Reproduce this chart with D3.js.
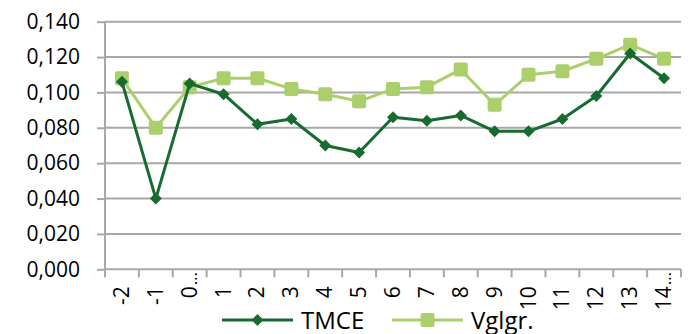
<!DOCTYPE html>
<html>
<head>
<meta charset="utf-8">
<script src="https://cdn.jsdelivr.net/npm/d3@7/dist/d3.min.js"></script>
<style>
  html, body { margin: 0; padding: 0; background: #fff; }
  svg { display: block; font-family: "Open Sans", sans-serif; }
</style>
</head>
<body>
<svg id="chart" width="688" height="334"></svg>
<script>
// Categories along the x axis (truncated labels end in an ellipsis)
const categories = ["-2", "-1", "0…", "1", "2", "3", "4", "5", "6", "7", "8", "9", "10", "11", "12", "13", "14…"];
// Series values
const tmce  = [0.106, 0.040, 0.105, 0.099, 0.082, 0.085, 0.070, 0.066, 0.086, 0.084, 0.087, 0.078, 0.078, 0.085, 0.098, 0.122, 0.108];
const vglgr = [0.108, 0.080, 0.103, 0.108, 0.108, 0.102, 0.099, 0.095, 0.102, 0.103, 0.113, 0.093, 0.110, 0.112, 0.119, 0.127, 0.119];
const yTicks = [0, 0.02, 0.04, 0.06, 0.08, 0.1, 0.12, 0.14];
const seriesNames = ["TMCE", "Vglgr."];

const darkGreen = "#176b30";
const lightGreen = "#abcf6b";
const gridColor = "#a8a8a8";

const svg = d3.select("#chart");
const plotLeft = 105, plotRight = 681, plotTop = 21.7, plotBottom = 269.3;

const x = d3.scaleBand().domain(categories).range([plotLeft, plotRight]).padding(0);
const y = d3.scaleLinear().domain([0, 0.14]).range([plotBottom, plotTop]);
const fmt = v => d3.format(".3f")(v).replace(".", ",");

// Horizontal gridlines
svg.append("g")
  .selectAll("line")
  .data(yTicks.filter(t => t > 0))
  .join("line")
  .attr("x1", plotLeft).attr("x2", plotRight)
  .attr("y1", d => y(d)).attr("y2", d => y(d))
  .attr("stroke", gridColor).attr("stroke-width", 2);

// Y axis
const yAxis = svg.append("g")
  .attr("transform", `translate(${plotLeft},0)`)
  .call(d3.axisLeft(y).tickValues(yTicks).tickFormat(fmt).tickSize(8).tickPadding(17));
yAxis.select(".domain").attr("stroke", gridColor).attr("stroke-width", 2).attr("d", `M0,${plotTop}V${plotBottom}`);
yAxis.selectAll(".tick line").attr("stroke", gridColor).attr("stroke-width", 2);
yAxis.selectAll(".tick text").attr("font-size", 21).attr("fill", "#000").attr("font-family", "Open Sans");

// X axis with tick marks between categories
const xAxisG = svg.append("g").attr("transform", `translate(0,${plotBottom})`);
xAxisG.append("line")
  .attr("x1", plotLeft).attr("x2", plotRight).attr("y1", 0).attr("y2", 0)
  .attr("stroke", gridColor).attr("stroke-width", 2);
const boundaries = categories.map(c => x(c)).concat([plotRight]);
xAxisG.selectAll("line.tk")
  .data(boundaries)
  .join("line").attr("class", "tk")
  .attr("x1", d => d).attr("x2", d => d)
  .attr("y1", 0).attr("y2", 8)
  .attr("stroke", gridColor).attr("stroke-width", 2);

// Rotated category labels; an ellipsis runs on past the label's end toward the axis
const labels = xAxisG.selectAll("g.lbl")
  .data(categories)
  .join("g").attr("class", "lbl")
  .attr("transform", d => `translate(${x(d) + x.bandwidth() / 2 + 7},17) rotate(-90)`);
labels.append("text")
  .attr("text-anchor", "end")
  .attr("font-size", 21)
  .attr("fill", "#000")
  .text(d => d.replace("…", ""));
labels.filter(d => d.endsWith("…"))
  .append("text")
  .attr("x", 1)
  .attr("text-anchor", "start")
  .attr("font-size", 17)
  .attr("fill", "#000")
  .text("…");

const cx = (d, i) => x(categories[i]) + x.bandwidth() / 2;
const line = d3.line().x((d, i) => cx(d, i)).y(d => y(d));

// Comparison group series (squares)
svg.append("path").datum(vglgr)
  .attr("d", line).attr("fill", "none")
  .attr("stroke", lightGreen).attr("stroke-width", 3).attr("stroke-linejoin", "round");
svg.append("g").selectAll("rect")
  .data(vglgr).join("rect")
  .attr("x", (d, i) => cx(d, i) - 7).attr("y", d => y(d) - 7)
  .attr("width", 14).attr("height", 14).attr("rx", 2)
  .attr("fill", lightGreen);

// TMCE series (diamonds)
const diamond = d3.symbol().type(d3.symbolSquare).size(72);
svg.append("path").datum(tmce)
  .attr("d", line).attr("fill", "none")
  .attr("stroke", darkGreen).attr("stroke-width", 3).attr("stroke-linejoin", "round");
svg.append("g").selectAll("path")
  .data(tmce).join("path")
  .attr("d", diamond)
  .attr("transform", (d, i) => `translate(${cx(d, i)},${y(d)}) rotate(45)`)
  .attr("fill", darkGreen);

// Legend
const legend = svg.append("g").attr("transform", "translate(0,320)");
const items = [
  { name: seriesNames[0], color: darkGreen, x0: 222, x1: 293, text: 301, marker: "diamond" },
  { name: seriesNames[1], color: lightGreen, x0: 392, x1: 463, text: 471, marker: "square" }
];
items.forEach(it => {
  legend.append("line")
    .attr("x1", it.x0).attr("x2", it.x1).attr("y1", 0).attr("y2", 0)
    .attr("stroke", it.color).attr("stroke-width", 3);
  const mx = (it.x0 + it.x1) / 2;
  if (it.marker === "diamond") {
    legend.append("path").attr("d", diamond)
      .attr("transform", `translate(${mx},0) rotate(45)`).attr("fill", it.color);
  } else {
    legend.append("rect").attr("x", mx - 7).attr("y", -7).attr("width", 14).attr("height", 14)
      .attr("rx", 2).attr("fill", it.color);
  }
  legend.append("text")
    .attr("x", it.text).attr("y", 8.5)
    .attr("font-size", 24).attr("fill", "#000")
    .text(it.name);
});
</script>
</body>
</html>
